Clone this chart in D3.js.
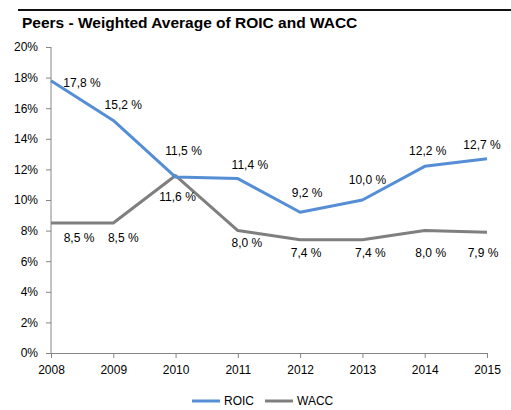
<!DOCTYPE html>
<html>
<head>
<meta charset="utf-8">
<script src="https://cdn.jsdelivr.net/npm/d3@7"></script>
<style>
  body { margin: 0; background: #fff; }
  svg text { font-family: "Liberation Sans", Arial, sans-serif; fill: #000; }
</style>
</head>
<body>
<div id="chart"></div>
<script>
// Chart data
var years = ["2008", "2009", "2010", "2011", "2012", "2013", "2014", "2015"];
var roic = [17.8, 15.2, 11.5, 11.4, 9.2, 10.0, 12.2, 12.7];
var wacc = [8.5, 8.5, 11.6, 8.0, 7.4, 7.4, 8.0, 7.9];
var yTicks = [0, 2, 4, 6, 8, 10, 12, 14, 16, 18, 20];

// hand-nudged label offsets (like in the original sheet)
var roicLabelOffset = [[31, 2], [10, -16], [8, -26], [12, -14], [7, -19], [5, -20], [3, -16], [-5, -14]];
var waccLabelOffset = [[28, 15], [10, 15], [2, 21], [9, 12], [6, 13], [8, 13], [6, 22], [-4, 21]];

var W = 511, H = 410;
var margin = { top: 47, left: 51, right: 24, bottom: 57 };

var svg = d3.select("#chart").append("svg")
    .attr("width", W)
    .attr("height", H);

// top rule
svg.append("rect")
    .attr("x", 18).attr("y", 9)
    .attr("width", W - 18).attr("height", 2)
    .attr("fill", "#111");

svg.append("text")
    .attr("x", 22).attr("y", 28)
    .attr("font-size", "15.5px")
    .attr("font-weight", "bold")
    .text("Peers - Weighted Average of ROIC and WACC");

var x = d3.scalePoint()
    .domain(years)
    .range([margin.left, W - margin.right]);

var y = d3.scaleLinear()
    .domain([0, 20])
    .range([H - margin.bottom, margin.top]);

var axisColor = "#868686";

// Y axis
var yAxis = svg.append("g")
    .attr("transform", "translate(" + margin.left + ",0)")
    .call(d3.axisLeft(y).tickValues(yTicks).tickSize(5).tickPadding(8)
        .tickFormat(function (d) { return d + "%"; }));

// X axis
var xAxis = svg.append("g")
    .attr("transform", "translate(0," + y(0) + ")")
    .call(d3.axisBottom(x).tickSize(5).tickPadding(7).tickSizeOuter(0));

[yAxis, xAxis].forEach(function (g) {
    g.select(".domain").attr("stroke", axisColor);
    g.selectAll(".tick line").attr("stroke", axisColor);
    g.selectAll(".tick text")
        .attr("font-size", "12px")
        .attr("font-family", "Liberation Sans, Arial, sans-serif")
        .attr("fill", "#000");
});
yAxis.select(".domain").attr("d", "M0," + y(20) + "V" + y(0));

var series = [
    { name: "ROIC", values: roic, color: "#558ED5", offsets: roicLabelOffset },
    { name: "WACC", values: wacc, color: "#7F7F7F", offsets: waccLabelOffset }
];

var line = d3.line()
    .x(function (d, i) { return x(years[i]); })
    .y(function (d) { return y(d); });

// draw WACC first so ROIC sits on top
series.slice().reverse().forEach(function (s) {
    svg.append("path")
        .datum(s.values)
        .attr("fill", "none")
        .attr("stroke", s.color)
        .attr("stroke-width", 3)
        .attr("stroke-linejoin", "round")
        .attr("d", line);
});

var fmt = function (v) { return v.toFixed(1).replace(".", ",") + " %"; };

series.forEach(function (s) {
    svg.append("g").selectAll("text")
        .data(s.values)
        .join("text")
        .attr("x", function (d, i) { return x(years[i]) + s.offsets[i][0]; })
        .attr("y", function (d, i) { return y(d) + s.offsets[i][1]; })
        .attr("dy", "0.35em")
        .attr("text-anchor", "middle")
        .attr("font-size", "12px")
        .text(fmt);
});

// Legend
var legend = svg.append("g").attr("transform", "translate(192,401)");
var lx = 0;
series.forEach(function (s) {
    var item = legend.append("g").attr("transform", "translate(" + lx + ",0)");
    item.append("line")
        .attr("x1", 0).attr("x2", 28)
        .attr("stroke", s.color)
        .attr("stroke-width", 3);
    var t = item.append("text")
        .attr("x", 32).attr("dy", "0.35em")
        .attr("font-size", "12px")
        .text(s.name);
    lx += 32 + t.node().getComputedTextLength() + 11;
});
</script>
</body>
</html>
